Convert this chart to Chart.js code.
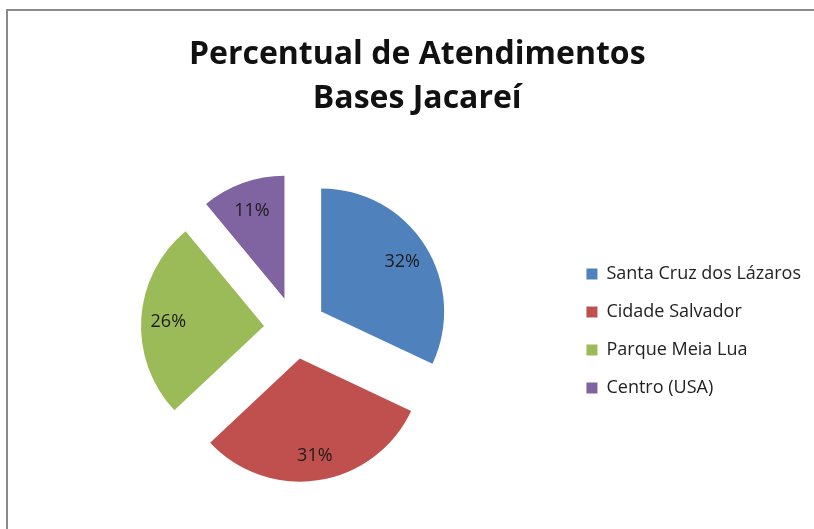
<!DOCTYPE html>
<html>
<head>
<meta charset="utf-8">
<script src="https://cdn.jsdelivr.net/npm/chart.js@4/dist/chart.umd.min.js"></script>
<style>
  html, body { margin: 0; padding: 0; background: #fff; overflow: hidden; width: 814px; height: 529px; }
  body { position: relative; }
  #frame { position: absolute; left: 6px; top: 9px; width: 1000px; height: 700px; border-left: 2px solid #8a8a8a; border-top: 2px solid #8a8a8a; box-sizing: border-box; }
  #c { position: absolute; left: 0; top: 0; }
</style>
</head>
<body>
<div id="frame"></div>
<canvas id="c" width="836" height="529"></canvas>
<script>
const titleLines = ['Percentual de Atendimentos', 'Bases Jacareí'];
const categories = ['Santa Cruz dos Lázaros', 'Cidade Salvador', 'Parque Meia Lua', 'Centro (USA)'];
const percentValues = [32, 31, 26, 11];
const sliceColors = ['#4F81BD', '#C0504D', '#9BBB59', '#8064A2'];
const explodeDistance = 31;

// pull every slice out along its own bisector (exploded pie)
const explode = {
  id: 'explode',
  afterDatasetUpdate(chart, args) {
    args.meta.data.forEach(arc => {
      const mid = (arc.startAngle + arc.endAngle) / 2;
      arc.x += Math.cos(mid) * explodeDistance;
      arc.y += Math.sin(mid) * explodeDistance;
    });
  }
};

const pieLabels = {
  id: 'pieLabels',
  afterDatasetsDraw(chart) {
    const ctx = chart.ctx;
    const meta = chart.getDatasetMeta(0);
    ctx.save();
    ctx.font = '18px "Open Sans"';
    ctx.fillStyle = '#1c1c1c';
    ctx.textAlign = 'center';
    ctx.textBaseline = 'middle';
    meta.data.forEach((arc, i) => {
      const mid = (arc.startAngle + arc.endAngle) / 2;
      const r = arc.outerRadius * 0.78;
      ctx.fillText(percentValues[i] + '%', arc.x + Math.cos(mid) * r, arc.y + Math.sin(mid) * r + 2);
    });
    ctx.restore();
  }
};

new Chart(document.getElementById('c'), {
  type: 'pie',
  data: {
    labels: categories,
    datasets: [{
      data: percentValues,
      backgroundColor: sliceColors,
      borderWidth: 0,
      hoverOffset: 0
    }]
  },
  plugins: [explode, pieLabels],
  options: {
    responsive: false,
    animation: false,
    events: [],
    radius: 123,
    layout: { padding: { left: 23.5, right: 25, top: 0, bottom: 0 } },
    plugins: {
      tooltip: { enabled: false },
      title: {
        display: true,
        text: titleLines,
        color: '#111',
        font: { family: 'Open Sans', size: 32, weight: 'bold', lineHeight: '44px' },
        padding: { top: 33, bottom: 6 }
      },
      legend: {
        position: 'right',
        fullSize: false,
        title: { display: true, text: '', font: { size: 6, lineHeight: '6px' }, padding: 0 },
        labels: {
          color: '#222',
          font: { family: 'Open Sans', size: 18 },
          boxWidth: 11,
          boxHeight: 11,
          padding: 20
        }
      }
    }
  }
});
</script>
</body>
</html>
